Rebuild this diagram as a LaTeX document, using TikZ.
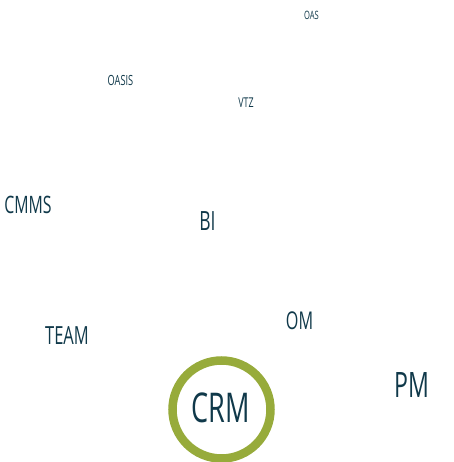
\documentclass[tikz,border=0pt]{standalone}
\usepackage{fontspec}
\setmainfont{Open Sans}[FakeStretch=0.66]
\definecolor{txt}{HTML}{10394A}
\definecolor{ring}{HTML}{97AB3B}
\begin{document}
\begin{tikzpicture}[x=1pt,y=1pt,
  lbl/.style={text=txt, inner sep=0pt, anchor=center},
  fs/.style={font=\fontsize{#1}{#1}\selectfont}]
\useasboundingbox (0,0) rectangle (453,462);
\draw[ring, line width=8.5pt] (221.5,52.5) circle (49);
\node[lbl, fs=41] (crm) at (221,54.5) {CRM};
\node[lbl, fs=35] (pm) at (411.5,76.5) {PM};
\node[lbl, fs=24.5] (om) at (299.5,141.5) {OM};
\node[lbl, fs=25] (team) at (67,126) {TEAM};
\node[lbl, fs=24] (cmms) at (28,257.5) {CMMS};
\node[lbl, fs=26.5] (bi) at (207.5,240.7) {BI};
\node[lbl, fs=14] (oasis) at (120.5,381) {OASIS};
\node[lbl, fs=13.5] (vtz) at (246,359.5) {VTZ};
\node[lbl, fs=11.5] (oas) at (311.5,446.5) {OAS};
\end{tikzpicture}
\end{document}
